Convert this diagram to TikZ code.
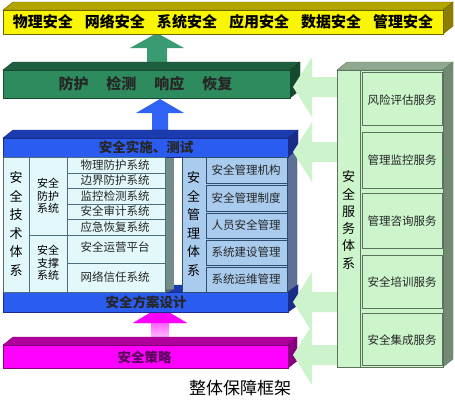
\documentclass[tikz,border=0pt]{standalone}
\usepackage{fontspec}
\setmainfont{Noto Sans CJK SC}
\definecolor{ybfront}{HTML}{FAF500}
\definecolor{ybtop}{HTML}{B4A600}
\definecolor{ybside}{HTML}{8C7E00}
\definecolor{ybline}{HTML}{6E6400}
\definecolor{gfront}{HTML}{2E8B5E}
\definecolor{gtop}{HTML}{1F5E3E}
\definecolor{gside}{HTML}{164A30}
\definecolor{bfront}{HTML}{2B5CF0}
\definecolor{btop}{HTML}{1C3BB0}
\definecolor{bside}{HTML}{182C88}
\definecolor{mfront}{HTML}{FF00FF}
\definecolor{mtop}{HTML}{B0009C}
\definecolor{mside}{HTML}{86007E}
\definecolor{cyancell}{HTML}{E2F8FA}
\definecolor{cellline}{HTML}{4E6E80}
\definecolor{mgmt}{HTML}{A9CBEE}
\definecolor{mgmtline}{HTML}{2E4E70}
\definecolor{graysd}{HTML}{748C8C}
\definecolor{bluesd}{HTML}{5E7098}
\definecolor{lg}{HTML}{CCF5CC}
\definecolor{lgline}{HTML}{5C725C}
\definecolor{lgtop}{HTML}{8FA88F}
\definecolor{lgside}{HTML}{728A72}
\definecolor{arrowlg}{HTML}{CDF3CD}
\definecolor{garrow}{HTML}{3A9A72}
\definecolor{barrow}{HTML}{2F62F5}
\definecolor{mtext}{HTML}{5A005A}
\tikzset{
  cell/.style={fill=cyancell,draw=cellline,line width=0.6pt},
  mcell/.style={fill=mgmt,draw=mgmtline,line width=0.6pt},
  scell/.style={fill=lg,draw=lgline,line width=0.6pt},
  celltext/.style={font=\fontsize{11.5}{13}\selectfont,text=black!85},
  bartext/.style={font=\bfseries\fontsize{13.5}{15}\selectfont},
  vtext/.style={align=center,font=\fontsize{13}{18.5}\selectfont},
  lgarrow/.style={fill=arrowlg,draw=none},
}
\begin{document}
\begin{tikzpicture}[x=1pt,y=-1pt]
\fill[white] (0,0) rectangle (455,402);
\useasboundingbox (0,0) rectangle (455,402);

% up arrows
\fill[garrow] (157,33)--(184,48)--(167,48)--(167,66)--(147,66)--(147,48)--(130,48)--cycle;
\fill[barrow] (160,99)--(184,113)--(168,113)--(168,133)--(152,133)--(152,113)--(136,113)--cycle;
\shade[top color=mfront,bottom color=mfront!20] (160,307)--(187,323)--(169,323)--(169,340)--(151,340)--(151,323)--(133,323)--cycle;
\fill[mfront] (160,307)--(187,323)--(133,323)--cycle;

% yellow bar
\filldraw[fill=ybtop,draw=ybline] (3,10)--(13,2)--(453,2)--(443,10)--cycle;
\filldraw[fill=ybside,draw=ybline] (443,10)--(453,2)--(453,26)--(443,34)--cycle;
\filldraw[fill=ybfront,draw=ybline] (3,10) rectangle (443,34);
\node[font=\bfseries\fontsize{15}{17}\selectfont] (top) at (223,22)
  {物理安全\hspace{0.8em}网络安全\hspace{0.8em}系统安全\hspace{0.8em}应用安全\hspace{0.8em}数据安全\hspace{0.8em}管理安全};

% green bar
\filldraw[fill=gtop,draw=gside] (3,70)--(13,62)--(300,62)--(290,70)--cycle;
\filldraw[fill=gside,draw=gside] (290,70)--(300,62)--(300,90)--(290,98)--cycle;
\filldraw[fill=gfront,draw=gside] (3,70) rectangle (290,98);
\node[font=\bfseries\fontsize{15}{17}\selectfont,text=black!85] (pdrr) at (145.5,84)
  {防护\hspace{1.2em}检测\hspace{1.2em}响应\hspace{1.2em}恢复};

% bottom blue block (drawn first so columns sit on it)
\filldraw[fill=btop,draw=bside] (3,292)--(13,285)--(298,285)--(288,292)--cycle;
\filldraw[fill=bside,draw=bside] (288,292)--(298,285)--(298,305)--(288,312)--cycle;
\filldraw[fill=bfront,draw=bside] (3,292) rectangle (288,312);
\node[bartext,text=black!85] (design) at (146,302.5) {安全方案设计};

% side strips of the two column blocks
\fill[graysd] (165,157) rectangle (174,289);
\fill[graysd!80!black] (165,289)--(174,289)--(168,292)--(165,292)--cycle;
\filldraw[fill=bluesd,draw=bluesd!70!black] (287,157)--(297,149)--(297,285)--(287,292)--cycle;

% top blue block
\filldraw[fill=btop,draw=bside] (3,138)--(13,130)--(298,130)--(288,138)--cycle;
\filldraw[fill=bside,draw=bside] (288,138)--(298,130)--(298,149)--(288,157)--cycle;
\filldraw[fill=bfront,draw=bside] (3,138) rectangle (288,157);
\node[bartext,text=black!85] (impl) at (146,147) {安全实施、测试};

% technical system columns
\draw[cell] (3,157) rectangle (29,292);
\node[vtext] (tech) at (16,224) {安\\全\\技\\术\\体\\系};
\draw[cell] (29,157) rectangle (67,235);
\draw[cell] (29,235) rectangle (67,292);
\node[align=center,font=\fontsize{11}{12.3}\selectfont] (prot) at (48,196) {安全\\防护\\系统};
\node[align=center,font=\fontsize{11}{12.3}\selectfont] (supp) at (48,263) {安全\\支撑\\系统};
\draw[cell] (67,157) rectangle (165,173);
\draw[cell] (67,173) rectangle (165,188);
\draw[cell] (67,188) rectangle (165,204);
\draw[cell] (67,204) rectangle (165,219);
\draw[cell] (67,219) rectangle (165,235);
\draw[cell] (67,235) rectangle (165,263);
\draw[cell] (67,263) rectangle (165,292);
\node[celltext] (t1) at (115,165) {物理防护系统};
\node[celltext] (t2) at (115,180.5) {边界防护系统};
\node[celltext] (t3) at (115,196) {监控检测系统};
\node[celltext] (t4) at (115,211.5) {安全审计系统};
\node[celltext] (t5) at (115,227) {应急恢复系统};
\node[celltext] (t6) at (115,247.5) {安全运营平台};
\node[celltext] (t7) at (115,277.5) {网络信任系统};

% management system
\draw[mcell] (182,157) rectangle (287,292);
\node[vtext] (mgmtv) at (193.5,224) {安\\全\\管\\理\\体\\系};
\draw[mcell] (206,157) rectangle (287,183);
\draw[mcell] (206,185) rectangle (287,211);
\draw[mcell] (206,213) rectangle (287,238);
\draw[mcell] (206,240) rectangle (287,265);
\draw[mcell] (206,267) rectangle (287,292);
\node[celltext] (m1) at (246,170) {安全管理机构};
\node[celltext] (m2) at (246,198) {安全管理制度};
\node[celltext] (m3) at (246,225.5) {人员安全管理};
\node[celltext] (m4) at (246,252.5) {系统建设管理};
\node[celltext] (m5) at (246,279.5) {系统运维管理};

% magenta bar
\filldraw[fill=mtop,draw=mside] (3,345)--(13,337)--(297,337)--(288,345)--cycle;
\filldraw[fill=mside,draw=mside] (288,345)--(297,337)--(297,361)--(288,368)--cycle;
\filldraw[fill=mfront,draw=mside] (3,345) rectangle (288,368);
\node[bartext,text=mtext] (policy) at (144.5,357) {安全策略};

% light green arrows pointing left
\foreach \c in {87,152,302,355}{
  \fill[lgarrow] (293,\c)--(312,\c-30)--(312,\c-10)--(340,\c-10)--(340,\c+10)--(312,\c+10)--(312,\c+30)--cycle;
}

% right service panel
\filldraw[fill=lgtop,draw=lgline] (337,70)--(347,62)--(453,62)--(443,70)--cycle;
\filldraw[fill=lgside,draw=lgline] (443,70)--(453,62)--(453,359)--(443,367)--cycle;
\draw[scell] (337,70) rectangle (443,367);
\draw[lgline,line width=1pt] (360,70)--(360,367);
\node[vtext,font=\fontsize{13}{17.3}\selectfont] (svc) at (348.5,220) {安\\全\\服\\务\\体\\系};
\draw[scell] (362,72) rectangle (442,125);
\draw[scell] (362,132) rectangle (442,188);
\draw[scell] (362,193) rectangle (442,248);
\draw[scell] (362,255) rectangle (442,308);
\draw[scell] (362,313) rectangle (442,365);
\node[celltext] (s1) at (402,100) {风险评估服务};
\node[celltext] (s2) at (402,160) {管理监控服务};
\node[celltext] (s3) at (402,221) {管理咨询服务};
\node[celltext] (s4) at (402,282) {安全培训服务};
\node[celltext] (s5) at (402,340) {安全集成服务};

% caption
\node[font=\fontsize{17}{19}\selectfont] (cap) at (240,388) {整体保障框架};
\end{tikzpicture}
\end{document}
